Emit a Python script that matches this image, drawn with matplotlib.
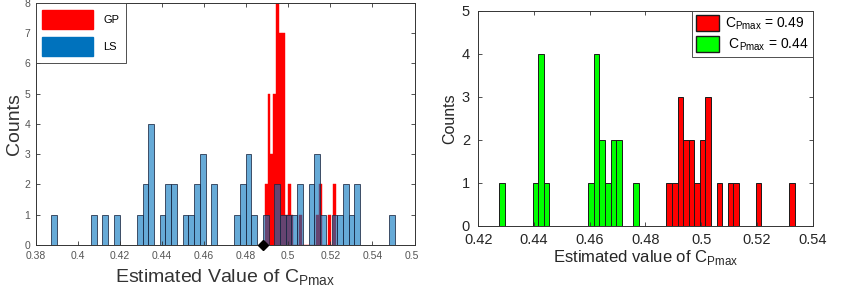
import numpy as np
import matplotlib
matplotlib.use("Agg")
import matplotlib.pyplot as plt
from matplotlib.patches import Patch
from matplotlib.transforms import Bbox, TransformedBbox

plt.rcParams['font.family'] = ['Liberation Sans', 'DejaVu Sans']

# ---- left panel: GP vs LS estimates ----
ls_start = 0.3873
ls_width = 0.00272
ls_counts = [1, 0, 0, 0, 0, 0, 0, 1, 0, 1, 0, 1, 0, 0, 0, 1, 2, 4, 0, 1,
             2, 2, 0, 1, 1, 2, 3, 0, 2, 0, 0, 0, 1, 2, 3, 1, 0, 1, 0, 2,
             1, 1, 1, 2, 0, 2, 3, 1, 0, 1, 1, 2, 1, 2, 0, 0, 0, 0, 0, 1]

gp_start = 0.48885
gp_width = 0.00136
gp_counts = [2, 5, 3, 5, 8, 7, 7, 1, 2, 1, 0, 0, 1, 0, 0, 0, 0, 0, 1, 2,
             0, 0, 1, 0, 2]

true_value = 0.4881
left_xticks = [0.38, 0.40, 0.42, 0.44, 0.46, 0.48, 0.50, 0.52, 0.54, 0.56]
left_xticklabels = ['0.38', '0.4', '0.42', '0.44', '0.46', '0.48', '0.5', '0.52', '0.54', '0.56']

# ---- right panel: two CPmax values ----
bin_width = 0.002
green_start = 0.4275
green_counts = [1, 0, 0, 0, 0, 0, 1, 4, 1, 0, 0, 0, 0, 0, 0, 0, 1, 4, 2, 1,
                2, 2, 0, 0, 1]
red_start = 0.4875
red_counts = [1, 1, 3, 2, 2, 1, 2, 3, 0, 1, 0, 1, 1, 0, 0, 0, 1, 0, 0, 0,
              0, 0, 1]
right_xticks = [0.42, 0.44, 0.46, 0.48, 0.50, 0.52, 0.54]
right_xticklabels = ['0.42', '0.44', '0.46', '0.48', '0.5', '0.52', '0.54']

AX_COLOR = '#333333'


def style_axes(ax, labelsize, labelcolor, xpad, ypad):
    for s in ax.spines.values():
        s.set_color(AX_COLOR)
        s.set_linewidth(0.7)
    ax.tick_params(direction='in', top=True, right=True, length=3,
                   width=0.6, color=AX_COLOR, labelsize=labelsize,
                   labelcolor=labelcolor)
    ax.tick_params(axis='x', pad=xpad)
    ax.tick_params(axis='y', pad=ypad)


fig = plt.figure(figsize=(8.41, 2.90), dpi=100)

# left
ax1 = fig.add_axes([0.0423, 0.1552, 0.4506, 0.8345])
edges = gp_start + gp_width * np.arange(len(gp_counts))
ax1.bar(edges, gp_counts, width=gp_width, align='edge',
        color='#FF0000', edgecolor='#FF0000', linewidth=0.3)
edges = ls_start + ls_width * np.arange(len(ls_counts))
ax1.bar(edges, ls_counts, width=ls_width, align='edge',
        facecolor=(0.0, 0.447, 0.741, 0.6), edgecolor=(0.1, 0.15, 0.25, 0.9),
        linewidth=0.6)
ax1.plot([true_value], [0], marker='D', color='black', markersize=5,
         clip_on=False, zorder=5)
ax1.set_xlim(0.38, 0.56)
ax1.set_ylim(0, 8)
ax1.set_xticks(left_xticks)
ax1.set_xticklabels(left_xticklabels)
ax1.set_yticks(range(0, 9))
style_axes(ax1, 7.5, '#555555', 4.5, 4)
ax1.set_ylabel('Counts', fontsize=14, color='#333333', labelpad=1)
ax1.set_xlabel(r'Estimated Value of C$_{\mathregular{Pmax}}$', fontsize=14,
               color='#333333', labelpad=5)
leg1 = ax1.legend(handles=[Patch(facecolor='#FF0000', edgecolor='#FF0000', label='GP'),
                           Patch(facecolor='#0072BD', edgecolor='#0072BD', label='LS')],
                  loc='upper left', borderaxespad=0, fontsize=8,
                  handlelength=4.6, handleheight=2.3, labelspacing=0.7,
                  handletextpad=0.9, borderpad=0.6, fancybox=False,
                  framealpha=1, edgecolor='#333333')
leg1.get_frame().set_linewidth(0.6)

# clip the last tick label as the original figure is cropped
clip = TransformedBbox(Bbox([[0, 0], [418 / 841, 1]]), fig.transFigure)
last = ax1.get_xticklabels()[-1]
last.set_clip_box(clip)
last.set_clip_on(True)

# right
ax2 = fig.add_axes([0.5687, 0.2207, 0.3976, 0.7414])
edges = green_start + bin_width * np.arange(len(green_counts))
ax2.bar(edges, green_counts, width=bin_width, align='edge',
        color='#00FF00', edgecolor='#1a1a1a', linewidth=0.7)
edges = red_start + bin_width * np.arange(len(red_counts))
ax2.bar(edges, red_counts, width=bin_width, align='edge',
        color='#FF0000', edgecolor='#1a1a1a', linewidth=0.7)
ax2.set_xlim(0.42, 0.54)
ax2.set_ylim(0, 5)
ax2.set_xticks(right_xticks)
ax2.set_xticklabels(right_xticklabels)
ax2.set_yticks(range(0, 6))
style_axes(ax2, 10.5, '#262626', 5, 6)
ax2.set_ylabel('Counts', fontsize=11.5, color='#262626', labelpad=3)
ax2.set_xlabel(r'Estimated value of C$_{\mathregular{Pmax}}$', fontsize=12,
               color='#262626', labelpad=1)
leg2 = ax2.legend(handles=[Patch(facecolor='#FF0000', edgecolor='#1a1a1a',
                                 label=r'C$_{\mathregular{Pmax}}$ = 0.49'),
                           Patch(facecolor='#00FF00', edgecolor='#1a1a1a',
                                 label=r' C$_{\mathregular{Pmax}}$ = 0.44')],
                  loc='upper right', borderaxespad=0, fontsize=10,
                  handlelength=1.65, handleheight=1.4, labelspacing=0.25,
                  handletextpad=0.4, borderpad=0.3, fancybox=False,
                  framealpha=1, edgecolor='#333333')
leg2.get_frame().set_linewidth(0.6)

fig.savefig('out.png', dpi=100)
